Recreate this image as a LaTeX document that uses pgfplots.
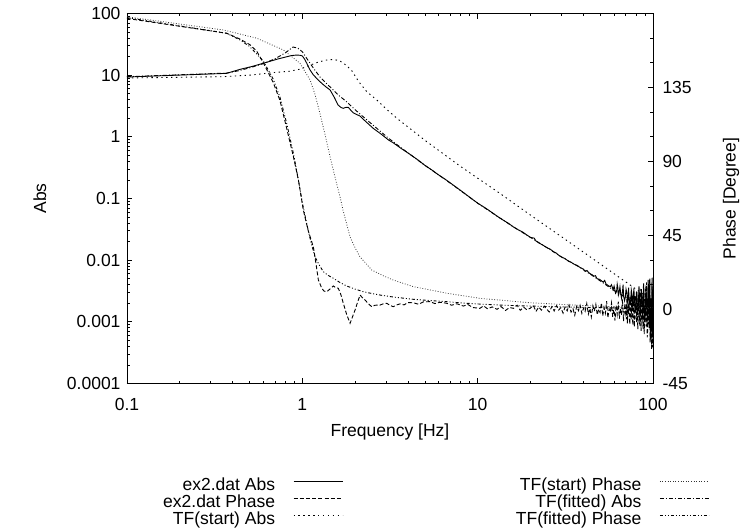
\documentclass[border=0pt]{standalone}
\usepackage{fontspec}
\setmainfont{Liberation Sans}
\usepackage{pgfplots}
\pgfplotsset{compat=1.18}
\newcommand{\fs}{\fontsize{17.5bp}{21bp}\selectfont}

\tikzset{
  sAbs/.style={black, line width=0.9bp},
  sPh/.style={black, line width=0.9bp, dash pattern=on 4bp off 2.2bp},
  sTsA/.style={black, line width=0.9bp, dash pattern=on 1.4bp off 3.5bp},
  sTsP/.style={black!80, line width=0.8bp, dash pattern=on 0.8bp off 1.8bp},
  sTfA/.style={black, line width=0.9bp, dash pattern=on 4bp off 2bp on 1bp off 2bp},
  sTfP/.style={black, line width=0.9bp, dash pattern=on 3bp off 2bp on 1bp off 2bp on 1bp off 2bp},
}

\begin{document}
\begin{tikzpicture}
\path[use as bounding box] (-127bp,-144.5bp) rectangle (615bp,383.5bp);

% ---- magnitude (left axis) ----
\begin{axis}[
  width=526bp, height=370bp, scale only axis,
  at={(0,0)}, anchor=south west,
  xmode=log, xmin=0.1, xmax=100,
  ymode=log, ymin=0.0001, ymax=100,
  axis y line*=left,
  tick align=inside,
  major tick length=5.5bp, minor tick length=2.75bp,
  tick style={black, line width=0.7bp},
  axis line style={line width=0.8bp},
  tick label style={font=\fs},
  xtick={0.1,1,10,100}, xticklabels={0.1,1,10,100},
  minor xtick={0.2,0.3,0.4,0.5,0.6,0.7,0.8,0.9,2,3,4,5,6,7,8,9,20,30,40,50,60,70,80,90},
  ytick={0.0001,0.001,0.01,0.1,1,10,100},
  yticklabels={0.0001,0.001,0.01,0.1,1,10,100},
  minor ytick={0.0002,0.0003,0.0004,0.0005,0.0006,0.0007,0.0008,0.0009,
    0.002,0.003,0.004,0.005,0.006,0.007,0.008,0.009,
    0.02,0.03,0.04,0.05,0.06,0.07,0.08,0.09,
    0.2,0.3,0.4,0.5,0.6,0.7,0.8,0.9,2,3,4,5,6,7,8,9,20,30,40,50,60,70,80,90},
  xticklabel style={yshift=-11.5bp},
  yticklabel style={xshift=-3bp},
  xlabel={Frequency [Hz]},
  xlabel style={at={(axis description cs:0.5,-0.142)}, anchor=base, font=\fs},
  ylabel={Abs},
  ylabel style={at={(axis description cs:-0.1654,0.5)}, anchor=center, font=\fs},
]
% ex2.dat Abs
\addplot[sAbs] coordinates {
 (0.1,9.34) (0.37,10.7) (0.44,12.4) (0.52,13.9) (0.627,16.2) (0.72,18.2)
 (0.815,19.9) (0.87,20.8) (0.929,21.2) (0.97,21.0) (1.0,20.5) (1.03,18.2)
 (1.06,15.6) (1.1,12.5) (1.156,10.1) (1.22,8.6) (1.29,7.38) (1.36,6.5)
 (1.44,5.75) (1.52,4.4) (1.6,3.28) (1.66,3.0) (1.71,2.9) (1.77,3.0)
 (1.83,3.01) (1.89,2.7) (1.95,2.46) (2.04,2.3) (2.13,2.18) (2.23,1.92)
 (2.38,1.62) (2.54,1.37) (2.8,1.12) (3.1,0.889) (3.3,0.80) (3.6,0.67)
 (3.9,0.575) (4.2,0.50) (4.6,0.415) (5.0,0.345) (5.5,0.288) (6.0,0.240)
 (6.5,0.207) (7.0,0.178) (7.6,0.150) (8.2,0.128) (9.0,0.105) (10,0.084)
 (11,0.071) (12,0.060) (13,0.051) (14,0.0445) (15,0.0395) (15.9,0.035)
 (17,0.0312) (18,0.0288) (19,0.0258) (20,0.0234) (21,0.0228) (21.5,0.0205)
 (22.5,0.0188) (23.5,0.0176) (24.8,0.0160) (26,0.0150) (27,0.0138) (28,0.0131)
 (29,0.0120) (30,0.0113) (31.5,0.0106) (33,0.0096) (34,0.0093) (35.5,0.0086)
 (37,0.0082) (38.4,0.0076) (40,0.0072) (41,0.0066) (42,0.0068) (43.5,0.0061)
 (45,0.0058) (46,0.0055) (47,0.0056) (48,0.0050) (49.5,0.0049) (51,0.0046)
 (52,0.0044) (53,0.0047) (54,0.0041) (55.5,0.0039) (57,0.0037) (58,0.0040)
 (59.2,0.0033) (60,0.0038) (60.5,0.0034) (61.2,0.0029) (62,0.0031) (62.5,0.0041)
 (63,0.0036) (63.5,0.0027) (64,0.0029) (64.8,0.0037) (65.5,0.0028) (66.2,0.0024)
 (67,0.0031) (67.5,0.0040) (68,0.0026) (68.8,0.0022) (69.5,0.0025) (70.2,0.0034)
 (71,0.0029) (71.5,0.0021) (72,0.0023) (72.6,0.0036) (73,0.0024) (73.8,0.0019)
 (74.5,0.0021) (75.2,0.0033) (76,0.0027) (76.5,0.0017) (77,0.0020) (77.8,0.0035)
 (78.5,0.0022) (79.2,0.0015) (80,0.0019) (80.5,0.0031) (81,0.0026) (81.8,0.0013)
 (82.5,0.0018) (83.2,0.0038) (84,0.0021) (84.5,0.0012) (85,0.0016) (85.8,0.0034)
 (86.5,0.0024) (87.2,0.0011) (88,0.0017) (88.5,0.0042) (89,0.0020) (89.8,0.0010)
 (90.5,0.0014) (91.2,0.0039) (92,0.0022) (92.6,0.0009) (93,0.0016) (93.8,0.0048)
 (94.5,0.0030) (95,0.0008) (95.5,0.0013) (96,0.0050) (96.5,0.0005) (97,0.0024)
 (97.5,0.0019) (98,0.0007) (98.5,0.0040) (99,0.0052) (99.3,0.0009) (99.7,0.0006)
 (100,0.0016)
};
% TF(start) Abs
\addplot[sTsA] coordinates {
 (0.1,9.0) (0.353,9.45) (0.5,10.0) (0.681,11.0) (0.85,11.6) (0.97,12.5)
 (1.06,13.8) (1.2,15.9) (1.35,17.5) (1.44,17.9) (1.54,17.8) (1.64,17.0)
 (1.78,14.5) (1.92,11.7) (2.1,7.8) (2.33,5.4) (2.66,3.96) (3.0,2.85)
 (3.46,2.0) (5,0.88) (8,0.33) (13.4,0.121) (20,0.0539) (30,0.0241)
 (50,0.00869) (70,0.00443) (100,0.00217)
};
% TF(fitted) Abs
\addplot[sTfA] coordinates {
 (0.1,9.45) (0.37,10.8) (0.44,11.9) (0.52,13.6) (0.6,15.4) (0.7,18.5)
 (0.8,23.0) (0.885,28.6) (0.94,27.5) (1.0,24.0) (1.05,19.5) (1.107,15.6)
 (1.18,12.0) (1.26,9.4) (1.36,7.5) (1.47,6.1) (1.6,4.8) (1.79,3.7)
 (2.0,2.75) (2.3,1.95) (2.6,1.45) (3.1,0.95) (4,0.55) (5,0.345)
 (6.5,0.205) (8,0.134) (10,0.084) (12.5,0.055) (15.9,0.035) (20,0.0234)
 (24.8,0.0160) (30,0.0113) (38.4,0.0076) (48,0.0050) (59.2,0.0033)
 (74,0.00225) (86,0.0018) (100,0.0015)
};
\end{axis}

% ---- phase (right axis) ----
\begin{axis}[
  width=526bp, height=370bp, scale only axis,
  at={(0,0)}, anchor=south west,
  xmode=log, xmin=0.1, xmax=100,
  axis x line=none, axis y line*=right,
  ymin=-45, ymax=180,
  tick align=inside,
  major tick length=5.5bp, minor tick length=2.75bp,
  tick style={black, line width=0.7bp},
  axis line style={line width=0.8bp},
  tick label style={font=\fs},
  ytick={-45,0,45,90,135}, yticklabels={-45,0,45,90,135},
  minor ytick={-30,-15,15,30,60,75,105,120,150,165},
  yticklabel style={xshift=6bp},
  ylabel={Phase [Degree]},
  ylabel style={at={(axis description cs:1.1483,0.5)}, anchor=center, font=\fs},
  legend columns=2, legend plot pos=right, legend cell align=right,
  legend image code/.code={\path[draw=none] (0bp,-4.4bp) -- (0bp,4.4bp); \draw[#1] (0bp,4.4bp) -- (49bp,4.4bp);},
  legend style={at={(axis description cs:0.0684,-0.2535)}, anchor=north west,
    draw=none, fill=none, inner sep=0pt, font=\fs, row sep=0pt,
    nodes={inner sep=0pt, text height=12.6bp, text depth=4.4bp},
    /tikz/every odd column/.append style={column sep=18bp},
    /tikz/every even column/.append style={column sep=173bp}},
]
\addlegendimage{sAbs}\addlegendentry{ex2.dat Abs}
\addlegendimage{sTsP}\addlegendentry{TF(start) Phase}
\addlegendimage{sPh}\addlegendentry{ex2.dat Phase}
\addlegendimage{sTfA}\addlegendentry{TF(fitted) Abs}
\addlegendimage{sTsA}\addlegendentry{TF(start) Abs}
\addlegendimage{sTfP}\addlegendentry{TF(fitted) Phase}

% ex2.dat Phase
\addplot[sPh, forget plot] coordinates {
 (0.1,177) (0.37,168) (0.44,164.5) (0.503,161) (0.55,157) (0.599,150)
 (0.683,138) (0.746,127) (0.815,110) (0.889,93) (0.949,79) (1.013,60.5)
 (1.08,48) (1.156,38) (1.2,27) (1.234,18) (1.291,12.9) (1.33,11.2)
 (1.378,10.8) (1.44,12.5) (1.503,14.3) (1.55,13.3) (1.604,12.9) (1.66,9)
 (1.713,3.8) (1.79,-3) (1.872,-8.4) (1.94,-4) (1.999,-0.3) (2.06,4)
 (2.134,8.8) (2.2,7.2) (2.279,5.8) (2.38,3.5) (2.488,1.7) (2.6,2.6)
 (2.775,2.7) (2.9,3.5) (3.03,3.8) (3.15,2.6) (3.3,1.7) (3.45,2.8)
 (3.61,3.4) (3.8,2.8) (4.0,4.2) (4.3,4.1) (4.6,3.2) (4.9,4.6)
 (5.35,4.8) (5.7,3.6) (6.1,4.4) (6.66,3.8) (7.1,2.6) (7.6,3.5)
 (8.28,2.1) (8.8,3.0) (9.4,1.2) (10.3,0.7) (10.8,2.2) (11.4,0.4)
 (12.1,1.6) (12.9,0.1) (13.6,1.8) (14.4,-0.6) (15.2,1.2) (16.0,0.7)
 (16.8,2.6) (17.5,-0.5) (18.3,1.4) (19.1,-0.2) (19.9,0.7) (20.8,2.4)
 (21.5,-1.2) (22.3,1.5) (23.1,-0.4) (24.0,2.0) (24.8,0.1) (25.6,-1.5)
 (26.5,1.8) (27.3,-0.9) (28.2,2.4) (29.0,-0.3) (29.8,1.1) (30.7,-2.2)
 (31.5,1.5) (32.4,-0.8) (33.2,2.7) (34.1,-1.6) (35.0,0.4) (35.8,-3.5)
 (36.7,1.9) (37.6,-0.7) (38.4,2.5) (39.3,-2.4) (40.2,0.9) (41.0,-1.1)
 (41.9,3.6) (42.8,-2.8) (43.7,0.6) (44.5,-4.5) (45.4,2.2) (46.3,-1.0)
 (47.2,3.1) (48.1,-3.2) (49.0,0.2) (49.9,-1.8) (50.8,4.0) (51.7,-3.9)
 (52.6,1.1) (53.5,-2.3) (54.4,5.0) (55.3,-5.1) (56.2,0.4) (57.1,-1.6)
 (58.0,3.9) (58.9,-4.4) (59.8,1.7) (60.7,-6.8) (61.6,2.5) (62.5,-2.9)
 (63.4,4.7) (64.3,-5.6) (65.2,0.8) (66.1,-3.4) (67.0,6.2) (67.9,-7.1)
 (68.8,1.5) (69.7,-2.0)
 (70.0,3.5) (70.5,-6.0) (71.0,6.4) (71.5,-8.5) (72.0,2.2) (72.4,-3.0)
 (72.9,7.5) (73.3,-4.3) (73.8,-9.0) (74.2,7.6) (74.7,1.0) (75.1,-6.2)
 (75.6,9.0) (76.0,2.1) (76.5,-7.0) (76.9,-9.5) (77.4,3.0) (77.8,6.6)
 (78.3,-10.5) (78.7,-3.0) (79.2,4.0) (79.6,8.4) (80.1,-4.5) (80.5,-7.7)
 (81.0,11.0) (81.4,0.9) (81.9,-12.0) (82.3,-5.2) (82.8,3.5) (83.2,10.6)
 (83.7,-6.0) (84.1,-9.8) (84.6,12.5) (85.0,3.2) (85.5,-13.0) (85.9,-4.1)
 (86.4,5.0) (86.8,9.1) (87.3,-2.0) (87.7,-11.6) (88.2,14.0) (88.6,1.0)
 (89.1,-15.0) (89.5,-6.5) (90.0,7.0) (90.4,12.4) (90.9,-3.5) (91.3,-10.3)
 (91.8,16.5) (92.2,4.5) (92.7,-17.0) (93.1,-13.8) (93.6,2.0) (94.0,7.9)
 (94.5,-9.0) (94.9,-5.0) (95.4,18.0) (95.8,16.2) (96.3,-20.0) (96.7,-15.5)
 (97.2,6.0) (97.6,3.8) (98.1,-24.0) (98.5,-19.5) (98.9,14.0) (99.2,11.0)
 (99.5,-23.0) (99.7,-14.0) (100,-4.0)
};
% TF(start) Phase
\addplot[sTsP, forget plot] coordinates {
 (0.1,178) (0.354,170) (0.549,165) (0.78,157.8) (0.97,149.7) (1.107,139.6)
 (1.18,131) (1.26,119.3) (1.35,106) (1.44,92.9) (1.54,80) (1.64,68.6)
 (1.71,60) (1.87,44.3) (2.0,37.5) (2.13,32.1) (2.49,24.0) (2.9,20.5)
 (3.3,17.9) (4.3,13.9) (6.66,9.9) (10.3,6.8) (19.9,4.1) (40,2.4)
 (70,1.5) (100,1.1)
};
% TF(fitted) Phase
\addplot[sTfP, forget plot] coordinates {
 (0.1,177.5) (0.37,168) (0.44,164) (0.5,160) (0.6,151) (0.683,140)
 (0.746,129) (0.815,113) (0.889,95) (0.949,79) (1.0,65) (1.06,52)
 (1.12,41) (1.18,32.1) (1.25,27) (1.318,23.0) (1.4,20.8) (1.503,19.0)
 (1.64,16.4) (1.79,14.3) (2.0,12.4) (2.23,10.8) (2.5,9.7) (2.77,8.8)
 (3.3,7.6) (4.3,6.2) (5.4,5.4) (6.67,4.75) (8.3,3.9) (10.3,3.3)
 (14,2.6) (19.9,2.1) (30,1.6) (45,1.2) (70,0.9) (100,0.7)
};
\end{axis}
\end{tikzpicture}
\end{document}
